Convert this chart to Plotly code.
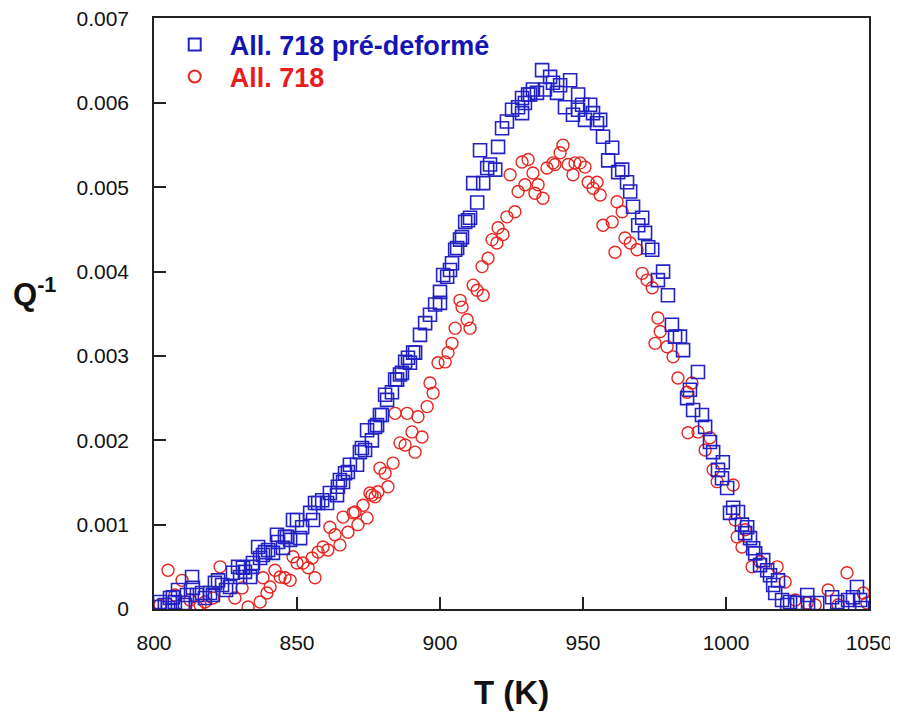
import plotly.graph_objects as go

# Pre-deformed alloy 718 (blue squares)
T_pre = [800.3, 802.1, 803.8, 804.9, 805.6, 806.6, 807.3, 808.4, 810.1, 810.8, 811.5, 813.3, 813.6, 815.0,
         816.8, 817.8, 819.6, 820.6, 821.3, 822.4, 823.8, 825.2, 826.6, 827.6, 829.4, 830.1, 831.1, 831.8,
         833.6, 834.3, 834.6, 836.4, 837.1, 838.1, 838.8, 839.9, 841.6, 843.0, 843.4, 845.1, 845.8, 846.5,
         847.6, 848.6, 850.0, 851.1, 851.8, 854.6, 855.6, 856.3, 857.4, 858.8, 860.5, 861.5, 864.0, 864.3,
         865.0, 866.1, 866.8, 867.8, 868.5, 871.0, 872.0, 872.7, 873.8, 874.5, 876.2, 877.3, 878.0, 879.0,
         879.7, 880.8, 881.5, 883.2, 884.3, 885.0, 886.0, 886.7, 887.8, 888.8, 889.5, 890.6, 891.3, 893.0,
         894.8, 896.5, 898.3, 900.0, 900.0, 901.1, 902.5, 903.5, 904.2, 905.3, 906.0, 907.0, 907.7, 908.8,
         909.8, 910.5, 911.6, 913.0, 914.0, 915.1, 916.5, 917.5, 919.3, 920.3, 921.7, 923.4, 925.2, 927.3,
         928.7, 928.7, 929.7, 930.8, 931.5, 932.5, 933.9, 935.7, 936.7, 938.5, 939.5, 940.9, 942.0, 943.7,
         945.5, 946.5, 948.3, 948.3, 949.7, 950.7, 952.5, 953.5, 954.9, 956.0, 957.0, 958.8, 960.2, 962.3,
         963.7, 965.4, 966.5, 967.5, 969.3, 970.7, 971.7, 972.8, 974.2, 976.2, 978.0, 979.7, 981.1, 982.2,
         983.9, 985.0, 986.4, 987.4, 988.5, 990.2, 991.6, 992.7, 994.4, 995.5, 997.2, 998.6, 998.9, 1000.4,
         1001.4, 1002.5, 1004.2, 1005.6, 1006.7, 1007.4, 1008.4, 1009.5, 1010.2, 1011.9, 1013.0, 1014.4,
         1015.4, 1016.5, 1017.2, 1018.2, 1019.6, 1021.4, 1022.4, 1024.9, 1028.4, 1028.7, 1031.9, 1037.1,
         1038.9, 1040.6, 1042.7, 1044.4, 1045.8, 1046.9, 1047.6]
Q_pre = [0.024, 0.083, 0.047, 0.012, 0.13, 0.14, 0.083, 0.225, 0.071, 0.047, 0.166, 0.38, 0.25, 0.166,
         0.19, 0.13, 0.19, 0.166, 0.31, 0.34, 0.285, 0.225, 0.26, 0.43, 0.50, 0.38, 0.49, 0.44,
         0.38, 0.50, 0.545, 0.735, 0.605, 0.64, 0.675, 0.70, 0.665, 0.88, 0.795, 0.725, 0.855, 0.855,
         0.82, 1.055, 1.055, 0.84, 0.97, 1.14, 1.055, 1.257, 1.257, 1.29, 1.257, 1.375, 1.35, 1.45,
         1.53, 1.506, 1.61, 1.625, 1.71, 1.71, 1.86, 1.91, 1.886, 2.12, 2.0, 2.16, 2.18, 2.30,
         2.30, 2.54, 2.48, 2.57, 2.72, 2.72, 2.78, 2.80, 2.93, 2.98, 2.92, 3.04, 3.04, 3.25,
         3.39, 3.49, 3.61, 3.76, 3.63, 3.96, 3.94, 4.02, 4.10, 4.26, 4.28, 4.38, 4.41, 4.59,
         4.61, 4.64, 5.05, 4.82, 5.44, 5.05, 5.23, 5.27, 5.21, 5.48, 5.70, 5.78, 5.92, 5.95,
         6.06, 5.88, 6.00, 6.10, 6.10, 6.16, 6.12, 6.39, 6.16, 6.31, 6.24, 6.12, 6.21, 5.95,
         6.27, 5.86, 6.10, 5.92, 5.98, 5.80, 5.98, 5.88, 5.76, 5.80, 5.60, 5.32, 5.47, 5.18,
         5.21, 5.06, 4.95, 4.77, 4.55, 4.64, 4.46, 4.29, 4.26, 3.90, 4.00, 3.72, 3.37, 3.23,
         3.23, 3.07, 2.50, 2.60, 2.36, 2.81, 2.30, 2.16, 1.98, 1.86, 1.65, 1.55, 1.74, 1.435,
         1.14, 1.20, 1.15, 1.00, 0.90, 0.97, 0.84, 0.72, 0.66, 0.52, 0.58, 0.46,
         0.40, 0.285, 0.19, 0.34, 0.107, 0.047, 0.083, 0.071, 0.166, 0.071, 0.071, 0.14,
         0.083, 0.012, 0.107, 0.14, 0.26, 0.107, 0.012]

# Alloy 718 (red circles)
T_raw = [802.1, 804.9, 807.3, 809.8, 812.6, 815.0, 816.1, 817.8, 820.6, 823.1, 828.3, 830.8, 832.9, 837.1,
         838.1, 839.5, 840.6, 842.3, 844.1, 845.8, 847.6, 848.6, 850.0, 852.1, 853.9, 855.3, 856.3, 857.4,
         859.1, 860.8, 861.5, 863.3, 865.0, 866.1, 867.8, 869.6, 870.3, 871.3, 873.1, 874.5, 875.5, 876.2,
         877.3, 878.3, 879.0, 880.8, 881.8, 883.6, 884.3, 886.0, 887.8, 888.5, 890.2, 891.3, 892.3, 893.7,
         895.5, 896.5, 897.6, 899.3, 901.8, 902.8, 904.2, 905.3, 907.0, 907.7, 909.5, 910.5, 911.6, 913.0,
         915.1, 914.7, 916.8, 918.2, 919.9, 920.3, 922.0, 923.4, 924.5, 926.2, 927.3, 928.7, 929.7, 930.8,
         932.5, 933.2, 934.3, 936.0, 937.4, 939.5, 940.2, 942.0, 943.0, 944.8, 946.5, 947.2, 949.0, 950.7,
         951.8, 953.5, 954.9, 956.0, 957.0, 960.2, 961.9, 963.7, 961.2, 964.7, 966.5, 968.9, 970.7, 972.4,
         974.2, 976.2, 977.0, 975.2, 979.4, 981.5, 983.2, 986.4, 988.1, 986.7, 990.2, 992.7, 994.4, 995.5,
         996.9, 1002.5, 1003.2, 1003.9, 1005.6, 1006.7, 1009.1, 1011.9, 1017.9, 1020.7, 1024.2, 1028.4,
         1031.2, 1035.7, 1039.2, 1042.3, 1048.0, 1049.3]
Q_raw = [0.047, 0.46, 0.166, 0.34, 0.107, 0.024, 0.047, 0.083, 0.13, 0.50, 0.13, 0.25, 0.024, 0.083,
         0.37, 0.19, 0.26, 0.46, 0.38, 0.37, 0.34, 0.62, 0.545, 0.545, 0.49, 0.605, 0.37, 0.675,
         0.735, 0.70, 0.97, 0.88, 0.76, 1.09, 0.91, 1.14, 1.15, 1.00, 1.23, 1.08, 1.375, 1.35,
         1.33, 1.39, 1.67, 1.61, 1.45, 1.73, 2.32, 1.97, 1.945, 2.32, 2.10, 1.86, 2.28, 2.04,
         2.40, 2.68, 2.56, 2.92, 2.93, 3.04, 3.15, 3.33, 3.66, 3.58, 3.43, 3.33, 3.84, 3.78,
         3.72, 4.06, 4.16, 4.38, 4.34, 4.52, 4.44, 4.65, 5.15, 4.71, 4.95, 5.30, 5.03, 5.33,
         5.17, 4.93, 5.03, 4.87, 5.23, 5.29, 5.27, 5.41, 5.50, 5.27, 5.15, 5.29, 5.29, 5.24,
         5.06, 4.99, 5.06, 4.91, 4.55, 4.59, 4.83, 4.71, 4.23, 4.40, 4.34, 4.26, 3.98, 3.90,
         3.81, 3.45, 3.29, 3.15, 3.11, 2.99, 2.74, 2.57, 2.68, 2.09, 2.10, 1.886, 2.03, 1.65,
         1.51, 1.47, 1.055, 0.855, 0.735, 0.94, 0.50, 0.56, 0.50, 0.32, 0.107, 0.071,
         0.047, 0.225, 0.047, 0.43, 0.19, 0.071]

Q_pre = [q * 1e-3 for q in Q_pre]
Q_raw = [q * 1e-3 for q in Q_raw]

x_ticks = [800, 850, 900, 950, 1000, 1050]
y_ticks = [0, 0.001, 0.002, 0.003, 0.004, 0.005, 0.006, 0.007]
y_tick_text = ["0", "0.001", "0.002", "0.003", "0.004", "0.005", "0.006", "0.007"]

BLUE = "#2222c4"
RED = "#e8251f"
FONT = "Arial, Liberation Sans, sans-serif"

fig = go.Figure()
fig.add_trace(go.Scatter(
    x=T_raw, y=Q_raw, mode="markers", legend="legend2",
    name="<span style='color:#e81c1c'><b>All. 718</b></span>",
    marker=dict(symbol="circle-open", size=12, color=RED, line=dict(width=1.4, color=RED)),
))
fig.add_trace(go.Scatter(
    x=T_pre, y=Q_pre, mode="markers", legend="legend",
    name="<span style='color:#1414b4'><b>All. 718 pré-deformé</b></span>",
    marker=dict(symbol="square-open", size=13, color=BLUE, line=dict(width=1.6, color=BLUE)),
))

axis_common = dict(
    showline=True, linecolor="#222222", linewidth=1.5, mirror=True,
    ticks="inside", ticklen=12, tickwidth=1.5, tickcolor="#222222",
    showgrid=False, zeroline=False, automargin=False, ticklabeloverflow="allow",
    tickfont=dict(family=FONT, size=21, color="#111111"),
)

fig.update_xaxes(range=[800, 1050], tickvals=x_ticks, ticktext=[str(v) for v in x_ticks],
                 ticklabelstandoff=14, **axis_common)
fig.update_yaxes(range=[0, 0.007008], tickvals=y_ticks, ticktext=y_tick_text,
                 ticklabelstandoff=19, **axis_common)

fig.add_annotation(text="<b>T (K)</b>", xref="paper", yref="paper", x=0.5, y=-0.142,
                   xanchor="center", yanchor="middle", showarrow=False,
                   font=dict(family=FONT, size=33, color="#111111"))
fig.add_annotation(text="<b>Q<sup>-1</sup></b>", xref="paper", yref="paper", x=-0.2, y=0.536,
                   xanchor="left", yanchor="middle", showarrow=False,
                   font=dict(family=FONT, size=31, color="#111111"))

leg_common = dict(xanchor="left", yanchor="middle", bgcolor="rgba(0,0,0,0)",
                  font=dict(family=FONT, size=27), itemsizing="constant", itemwidth=60)

# The page body has an 8px margin, so the figure is 8px smaller and margins shifted by -8
fig.update_layout(
    width=890, height=705,
    margin=dict(l=146, r=29, t=10, b=104),
    plot_bgcolor="white", paper_bgcolor="white",
    showlegend=True,
    legend=dict(x=0.008, y=(609 - 45) / 591, **leg_common),
    legend2=dict(x=0.008, y=(609 - 77) / 591, **leg_common),
)

fig.write_html("out.html")
